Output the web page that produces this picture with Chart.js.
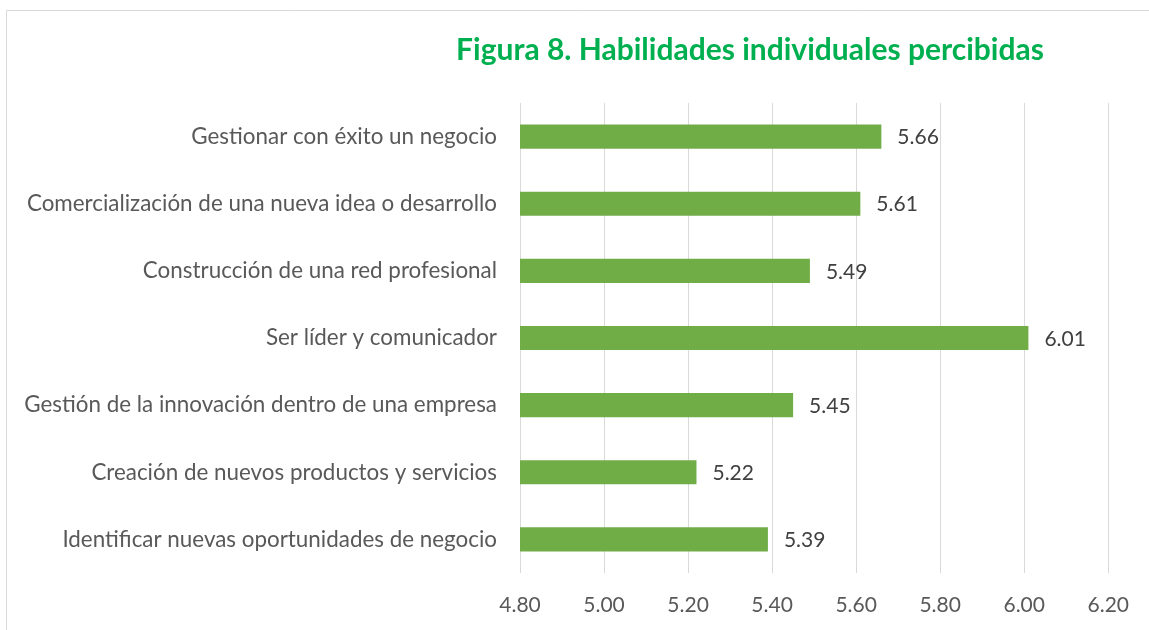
<!DOCTYPE html>
<html>
<head>
<meta charset="utf-8">
<script src="https://cdn.jsdelivr.net/npm/chart.js@4/dist/chart.umd.min.js"></script>
<style>
  html, body { margin: 0; padding: 0; background: #ffffff; }
  #wrap { width: 1149px; height: 630px; position: relative; }
</style>
</head>
<body>
<div id="wrap"><canvas id="c" width="1149" height="630"></canvas></div>
<script>
const chartTitle = "Figura 8. Habilidades individuales percibidas";
const categories = [
  "Gestionar con éxito un negocio",
  "Comercialización de una nueva idea o desarrollo",
  "Construcción de una red profesional",
  "Ser líder y comunicador",
  "Gestión de la innovación dentro de una empresa",
  "Creación de nuevos productos y servicios",
  "Identificar nuevas oportunidades de negocio"
];
const values = [5.66, 5.61, 5.49, 6.01, 5.45, 5.22, 5.39];
const axisMin = 4.8;
const axisMax = 6.2;
const axisStep = 0.2;

const FONT = "Lato, 'Open Sans', sans-serif";

const borderPlugin = {
  id: 'frame',
  beforeDraw(chart) {
    const ctx = chart.ctx;
    ctx.save();
    ctx.fillStyle = '#ffffff';
    ctx.fillRect(0, 0, chart.width, chart.height);
    ctx.strokeStyle = '#d9d9d9';
    ctx.lineWidth = 1;
    ctx.beginPath();
    ctx.moveTo(6.5, chart.height);
    ctx.lineTo(6.5, 10.5);
    ctx.lineTo(chart.width, 10.5);
    ctx.stroke();
    ctx.restore();
  }
};

const titlePlugin = {
  id: 'customTitle',
  afterDraw(chart) {
    const ctx = chart.ctx;
    ctx.save();
    ctx.font = "bold 30px " + FONT;
    ctx.fillStyle = '#00b050';
    ctx.textAlign = 'center';
    ctx.textBaseline = 'alphabetic';
    ctx.fillText(chartTitle, 750, 60);
    ctx.restore();
  }
};

const labelPlugin = {
  id: 'valueLabels',
  afterDatasetsDraw(chart) {
    const ctx = chart.ctx;
    ctx.save();
    ctx.font = "21px " + FONT;
    ctx.fillStyle = '#404040';
    ctx.textAlign = 'left';
    ctx.textBaseline = 'middle';
    chart.data.datasets.forEach((ds, di) => {
      const meta = chart.getDatasetMeta(di);
      meta.data.forEach((bar, i) => {
        ctx.fillText(ds.data[i].toFixed(2), bar.x + 16, bar.y + 1);
      });
    });
    ctx.restore();
  }
};

new Chart(document.getElementById('c'), {
  type: 'bar',
  data: {
    labels: categories,
    datasets: [{
      data: values,
      backgroundColor: '#70ad47',
      borderWidth: 0,
      categoryPercentage: 1.0,
      barPercentage: 0.36
    }]
  },
  options: {
    indexAxis: 'y',
    responsive: false,
    animation: false,
    devicePixelRatio: 1,
    layout: { padding: { top: 103, right: 39, left: 0, bottom: 0 } },
    plugins: {
      legend: { display: false },
      title: { display: false },
      tooltip: { enabled: false }
    },
    scales: {
      x: {
        min: axisMin,
        max: axisMax,
        ticks: {
          stepSize: axisStep,
          callback: (v) => Number(v).toFixed(2),
          font: { family: FONT, size: 21 },
          color: '#595959',
          padding: 20
        },
        grid: { color: '#d9d9d9', lineWidth: 1, drawTicks: false },
        border: { display: false },
        afterFit(scale) { scale.height = 57; }
      },
      y: {
        ticks: {
          font: { family: FONT, size: 22.4 },
          color: '#595959',
          padding: 23
        },
        grid: { display: false, drawTicks: false },
        border: { display: false },
        afterFit(scale) { scale.width = 520; }
      }
    }
  },
  plugins: [borderPlugin, titlePlugin, labelPlugin]
});
</script>
</body>
</html>
